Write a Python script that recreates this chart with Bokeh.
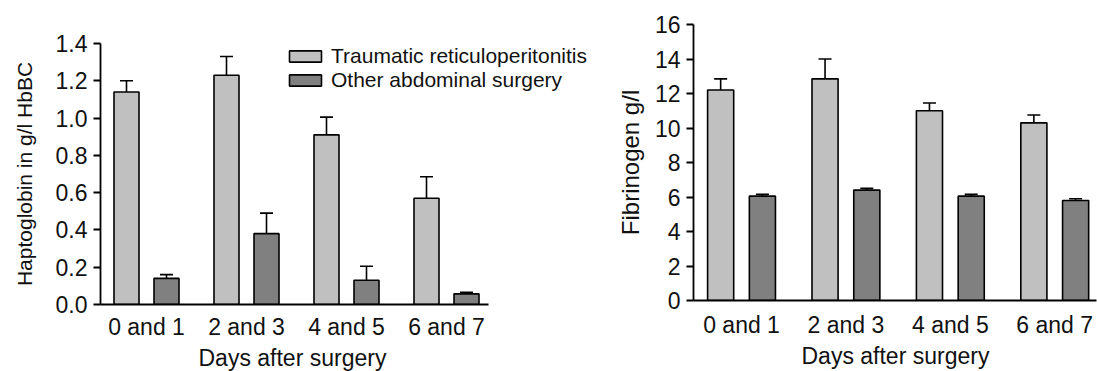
from bokeh.plotting import figure
from bokeh.layouts import row, column
from bokeh.models import (ColumnDataSource, Whisker, TeeHead, FixedTicker,
                          Legend, LegendItem, NumeralTickFormatter, Title)
from bokeh.embed import file_html
from bokeh.resources import INLINE

# Day groups after surgery
groups = ["0 and 1", "2 and 3", "4 and 5", "6 and 7"]
series_names = ["Traumatic reticuloperitonitis", "Other abdominal surgery"]
x_title = "Days after surgery"

# Haptoglobin (g/l HbBC): means and upper error
hapto_trp = [1.14, 1.23, 0.91, 0.57]
hapto_trp_err = [0.06, 0.10, 0.095, 0.115]
hapto_other = [0.14, 0.38, 0.13, 0.057]
hapto_other_err = [0.02, 0.11, 0.075, 0.008]

# Fibrinogen (g/l): means and upper error
fib_trp = [12.2, 12.85, 11.0, 10.3]
fib_trp_err = [0.65, 1.15, 0.45, 0.45]
fib_other = [6.05, 6.4, 6.05, 5.8]
fib_other_err = [0.1, 0.1, 0.1, 0.1]

hapto_ticks = [0.0, 0.2, 0.4, 0.6, 0.8, 1.0, 1.2, 1.4]
fib_ticks = [0, 2, 4, 6, 8, 10, 12, 14, 16]

LIGHT = "#c0c0c0"
DARK = "#808080"
FONT = "Liberation Sans"
OFFSET = 0.2
BAR_W = 0.25
X_START = -0.46


def make_panel(light, light_err, dark, dark_err, ticks, ylabel, fmt,
               width, height, x_end, axis_end, borders, label_standoff,
               label_size, tick_standoff, title_offset, with_legend):
    left, right, top, bottom = borders
    p = figure(width=width, height=height, output_backend="svg",
               toolbar_location=None, x_range=(X_START, x_end),
               y_range=(ticks[0], ticks[-1]),
               min_border_left=left, min_border_right=right,
               min_border_top=top, min_border_bottom=bottom)
    p.outline_line_color = None
    p.grid.grid_line_color = None
    p.background_fill_color = "white"
    p.border_fill_color = "white"

    xs = list(range(len(groups)))
    src_l = ColumnDataSource(dict(
        x=[i - OFFSET for i in xs], top=light,
        upper=[v + e for v, e in zip(light, light_err)]))
    src_d = ColumnDataSource(dict(
        x=[i + OFFSET for i in xs], top=dark,
        upper=[v + e for v, e in zip(dark, dark_err)]))

    r_l = p.vbar(x="x", top="top", bottom=0, width=BAR_W, source=src_l,
                 fill_color=LIGHT, line_color="black", line_width=1.6)
    r_d = p.vbar(x="x", top="top", bottom=0, width=BAR_W, source=src_d,
                 fill_color=DARK, line_color="black", line_width=1.6)

    for src in (src_l, src_d):
        w = Whisker(base="x", lower="top", upper="upper", source=src,
                    line_color="black", line_width=1.6,
                    upper_head=TeeHead(size=13, line_color="black",
                                       line_width=1.6),
                    lower_head=None)
        p.add_layout(w)

    # x axis: group labels, no ticks; the line stops after the last group
    p.xaxis.ticker = FixedTicker(ticks=xs)
    p.xaxis.major_label_overrides = {i: g for i, g in zip(xs, groups)}
    p.xaxis.bounds = (X_START, axis_end)
    p.xaxis.minor_tick_line_color = None
    p.xaxis.major_tick_out = 0
    p.xaxis.major_tick_in = 0
    p.xaxis.major_label_standoff = tick_standoff

    # x title sits under the group labels, centred on the drawn axis line
    p.add_layout(Title(text=x_title, align="left", offset=title_offset,
                       text_font=FONT, text_font_size="23px",
                       text_font_style="normal", text_color="#111111",
                       standoff=0), "below")

    # y axis
    p.yaxis.ticker = FixedTicker(ticks=ticks)
    if fmt:
        p.yaxis.formatter = NumeralTickFormatter(format=fmt)
    p.yaxis.minor_tick_line_color = None
    p.yaxis.major_tick_out = 7
    p.yaxis.major_tick_in = 0
    p.yaxis.major_label_standoff = 6
    p.yaxis.axis_label = ylabel
    p.yaxis.axis_label_standoff = label_standoff

    for ax in (p.xaxis, p.yaxis):
        ax.axis_line_width = 1.8
        ax.major_tick_line_width = 1.8
        ax.axis_line_color = "black"
        ax.major_label_text_font = FONT
        ax.major_label_text_font_size = "23px"
        ax.major_label_text_color = "#111111"
        ax.axis_label_text_font = FONT
        ax.axis_label_text_font_style = "normal"
        ax.axis_label_text_color = "#111111"
    p.xaxis.major_tick_line_color = None
    p.yaxis.major_tick_line_color = "black"
    p.yaxis.axis_label_text_font_size = label_size

    if with_legend:
        legend = Legend(items=[LegendItem(label=series_names[0], renderers=[r_l]),
                               LegendItem(label=series_names[1], renderers=[r_d])],
                        location=(185, 212), orientation="vertical",
                        glyph_width=40, glyph_height=14, label_standoff=6,
                        label_height=14, spacing=-5, padding=0, margin=0,
                        border_line_color=None, background_fill_alpha=0,
                        label_text_font=FONT, label_text_font_size="21px",
                        label_text_color="#111111")
        p.add_layout(legend)
    return p


# left frame spans 100..598 px; axis line ends near 488 px
left = make_panel(hapto_trp, hapto_trp_err, hapto_other, hapto_other_err,
                  hapto_ticks, "Haptoglobin in g/l HbBC", "0.0",
                  width=600, height=371, x_end=X_START + 4.98, axis_end=3.42,
                  borders=(100, 2, 43, 67), label_standoff=17,
                  label_size="21px", tick_standoff=9, title_offset=98,
                  with_legend=True)

right = make_panel(fib_trp, fib_trp_err, fib_other, fib_other_err,
                   fib_ticks, "Fibrinogen g/l", None,
                   width=497, height=371, x_end=3.40, axis_end=3.40,
                   borders=(93, 1, 24, 71), label_standoff=8,
                   label_size="24px", tick_standoff=11, title_offset=108,
                   with_legend=False)

layout = row(column(left), column(right), spacing=0)

with open("out.html", "w") as f:
    f.write(file_html(layout, INLINE))
